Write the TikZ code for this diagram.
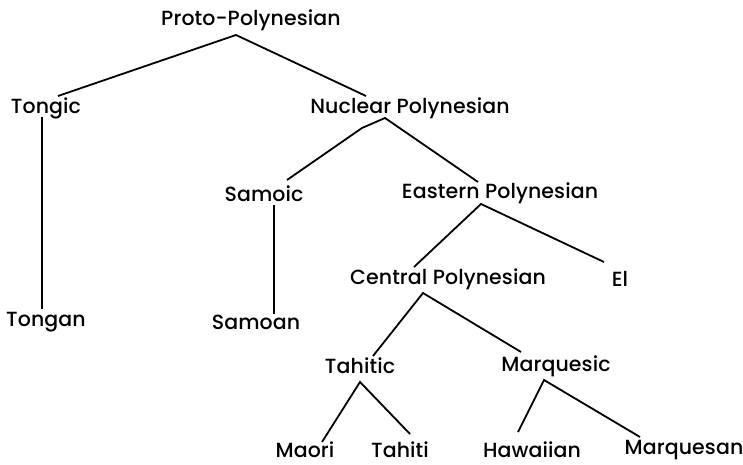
\documentclass[tikz,border=0pt]{standalone}
\usepackage{fontspec}
\setmainfont{Poppins}[UprightFont=* Medium,LetterSpace=0.5]
\begin{document}
\begin{tikzpicture}[x=1pt,y=-1pt,
  lab/.style={inner sep=0pt,font=\fontsize{20.5}{20.5}\selectfont},
  br/.style={line width=1.8pt}]
\useasboundingbox (0,0) rectangle (743,465);
% nodes
\node[lab] (pp) at (251,20) {Proto-Polynesian};
\node[lab] (tgc) at (46,108) {Tongic};
\node[lab] (np) at (410,108) {Nuclear Polynesian};
\node[lab] (smc) at (264,194) {Samoic};
\node[lab] (ep) at (500,193) {Eastern Polynesian};
\node[lab] (cp) at (448,279) {Central Polynesian};
\node[lab] (el) at (620,279) {El};
\node[lab] (tgn) at (46,322) {Tongan};
\node[lab] (smn) at (256,322) {Samoan};
\node[lab] (tht) at (360,366) {Tahitic};
\node[lab] (mqc) at (556,366) {Marquesic};
\node[lab] (mao) at (305,450) {Maori};
\node[lab] (tah) at (400,450) {Tahiti};
\node[lab] (haw) at (532,450) {Hawaiian};
\node[lab] (mqn) at (684,450) {Marquesan};
% attachment points
\coordinate (pp-s) at (236,35);
\coordinate (tgc-n) at (58,96);
\coordinate (np-n) at (366,96);
\coordinate (tgc-s) at (42,117);
\coordinate (tgn-n) at (42,309);
\coordinate (np-s) at (385,118);
\coordinate (np-k) at (362,128);
\coordinate (smc-n) at (287,180);
\coordinate (ep-n) at (478,182);
\coordinate (smc-s) at (274,205);
\coordinate (smn-n) at (274,314);
\coordinate (ep-s) at (481,204);
\coordinate (cp-n) at (414,267);
\coordinate (el-n) at (604,262);
\coordinate (cp-s) at (423,293);
\coordinate (tht-n) at (373,356);
\coordinate (mqc-n) at (521,352);
\coordinate (tht-s) at (360,382);
\coordinate (mao-n) at (322,442);
\coordinate (tah-n) at (410,434);
\coordinate (mqc-s) at (544,380);
\coordinate (haw-n) at (518,432);
\coordinate (mqn-n) at (640,437);
% branches
\draw[br] (tgc-n) -- (pp-s) -- (np-n);
\draw[br] (tgc-s) -- (tgn-n);
\draw[br] (smc-n) -- (np-k) -- (np-s) -- (ep-n);
\draw[br] (smc-s) -- (smn-n);
\draw[br] (cp-n) -- (ep-s) -- (el-n);
\draw[br] (tht-n) -- (cp-s) -- (mqc-n);
\draw[br] (mao-n) -- (tht-s) -- (tah-n);
\draw[br] (haw-n) -- (mqc-s) -- (mqn-n);
\end{tikzpicture}
\end{document}
